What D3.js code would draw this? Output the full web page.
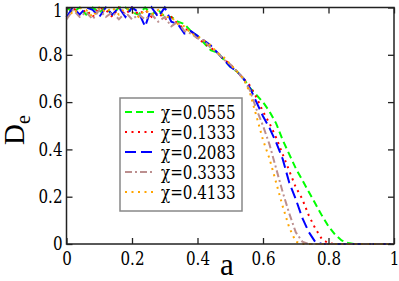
<!DOCTYPE html>
<html>
<head>
<meta charset="utf-8">
<script src="https://cdn.jsdelivr.net/npm/d3@7"></script>
<style>
  body { margin: 0; background: #fff; }
  svg text { font-family: "Liberation Serif", "Times New Roman", serif; }
  svg text.num { font-family: "DejaVu Serif", serif; }
</style>
</head>
<body>
<svg id="chart" width="399" height="281"></svg>
<script>
// a values, step 0.02 from 0 to 1
var aValues = d3.range(0, 51).map(function(i) { return +(i * 0.02).toFixed(2); });

var labels = ["χ=0.0555", "χ=0.1333", "χ=0.2083", "χ=0.3333", "χ=0.4133"];

var de_0555 = [1.0, 0.98, 1.0, 0.97, 1.0, 0.98, 1.0, 0.97, 1.0, 1.0,
  0.98, 0.97, 1.0, 0.97, 0.99, 0.96, 0.96, 0.94, 0.93, 0.90,
  0.88, 0.85, 0.82, 0.81, 0.78, 0.75, 0.73, 0.70,
  0.66, 0.63, 0.60, 0.56, 0.51, 0.44, 0.38, 0.32, 0.27, 0.22,
  0.17, 0.12, 0.075, 0.04, 0.015, 0.004, 0, 0, 0, 0, 0, 0, 0];
var de_1333 = [0.96, 1.0, 0.97, 0.99, 0.96, 1.0, 0.99, 0.96, 1.0, 0.97,
  1.0, 0.97, 0.99, 0.96, 0.98, 0.95, 0.96, 0.93, 0.91, 0.90,
  0.87, 0.85, 0.83, 0.81, 0.78, 0.76, 0.73, 0.70,
  0.67, 0.62, 0.56, 0.51, 0.45, 0.38, 0.31, 0.24, 0.19, 0.12,
  0.065, 0.02, 0.003, 0, 0, 0, 0, 0, 0, 0, 0, 0, 0];
var de_2083 = [0.96, 1.0, 0.97, 1.0, 0.99, 0.96, 1.0, 0.97, 1.0, 0.96,
  1.0, 0.98, 0.92, 1.0, 0.96, 1.0, 0.94, 0.93, 0.89, 0.90,
  0.88, 0.86, 0.84, 0.81, 0.78, 0.75, 0.73, 0.70,
  0.66, 0.60, 0.54, 0.49, 0.43, 0.36, 0.26, 0.19, 0.11, 0.05,
  0.008, 0, 0, 0, 0, 0, 0, 0, 0, 0, 0, 0, 0];
var de_3333 = [0.95, 0.99, 0.96, 0.98, 0.95, 0.99, 0.96, 0.98, 0.95, 0.98,
  0.95, 0.97, 0.95, 0.97, 0.94, 0.96, 0.92, 0.94, 0.90, 0.89,
  0.87, 0.86, 0.83, 0.81, 0.78, 0.76, 0.73, 0.70,
  0.65, 0.57, 0.50, 0.42, 0.32, 0.22, 0.13, 0.05, 0.01, 0,
  0, 0, 0, 0, 0, 0, 0, 0, 0, 0, 0, 0, 0];
var de_4133 = [1.0, 0.97, 1.0, 0.99, 0.96, 1.0, 0.98, 1.0, 0.97, 1.0,
  0.98, 0.96, 0.99, 0.97, 0.99, 0.96, 0.96, 0.93, 0.92, 0.89,
  0.88, 0.86, 0.84, 0.81, 0.79, 0.76, 0.73, 0.70,
  0.64, 0.54, 0.44, 0.36, 0.26, 0.16, 0.07, 0.01, 0, 0,
  0, 0, 0, 0, 0, 0, 0, 0, 0, 0, 0, 0, 0];

var xTicks = [0, 0.2, 0.4, 0.6, 0.8, 1];
var yTicks = [0, 0.2, 0.4, 0.6, 0.8, 1];

var series = [
  { name: labels[0], values: de_0555, color: "#00ff00", dash: "7,4" },
  { name: labels[1], values: de_1333, color: "#ff0000", dash: "2,4.5" },
  { name: labels[2], values: de_2083, color: "#0000ff", dash: "11,5" },
  { name: labels[3], values: de_3333, color: "#bc8f8f", dash: "7,3,2,3" },
  { name: labels[4], values: de_4133, color: "#ffa500", dash: "2,4.5" }
];

var squeeze = 0.84; // horizontal squeeze so DejaVu Serif digits get Times-like widths

const margin = {top: 7.5, right: 5, bottom: 37, left: 66.5},
  width = 399 - margin.left - margin.right,
  height = 281 - margin.top - margin.bottom;

const svg = d3.select("#chart");
const g = svg.append("g").attr("transform", `translate(${margin.left},${margin.top})`);

const x = d3.scaleLinear().domain([0, 1]).range([0, width]);
const y = d3.scaleLinear().domain([0, 1]).range([height, 0]);

g.append("clipPath").attr("id", "plotclip")
  .append("rect").attr("x", -2).attr("y", -2).attr("width", width + 4).attr("height", height + 4);

/** curves */
var line = d3.line()
  .x(function(d) { return x(d[0]); })
  .y(function(d) { return y(d[1]); });

g.append("g").attr("clip-path", "url(#plotclip)")
  .selectAll(".curve")
  .data(series)
  .join("path")
  .attr("class", "curve")
  .attr("fill", "none")
  .attr("stroke", function(d) { return d.color; })
  .attr("stroke-width", 2)
  .attr("stroke-dasharray", function(d) { return d.dash; })
  .attr("d", function(d) { return line(aValues.map(function(a, i) { return [a, d.values[i]]; })); });

/** frame + inward ticks */
var axisColor = "#222";
g.append("g").attr("transform", `translate(0,${height})`)
  .call(d3.axisBottom(x).tickValues(xTicks).tickSizeInner(-6).tickSizeOuter(0).tickPadding(8).tickFormat(d3.format("")))
  .call(function(s) { s.select(".domain").remove(); });
g.append("g")
  .call(d3.axisTop(x).tickValues(xTicks).tickSizeInner(-6).tickSizeOuter(0).tickFormat(""))
  .call(function(s) { s.select(".domain").remove(); });
g.append("g").attr("class", "yaxis")
  .call(d3.axisLeft(y).tickValues(yTicks).tickSizeInner(-6).tickSizeOuter(0).tickPadding(4).tickFormat(d3.format("")))
  .call(function(s) { s.select(".domain").remove(); });
g.append("g").attr("transform", `translate(${width},0)`)
  .call(d3.axisRight(y).tickValues(yTicks).tickSizeInner(-6).tickSizeOuter(0).tickFormat(""))
  .call(function(s) { s.select(".domain").remove(); });

g.selectAll(".tick line").attr("stroke", axisColor).attr("stroke-width", 1.3);
g.selectAll(".tick text")
  .attr("class", "num")
  .attr("font-size", 18)
  .attr("fill", "#000")
  .attr("x", function() { return +d3.select(this).attr("x") / squeeze; })
  .attr("transform", `scale(${squeeze},1)`);
// top label "1" sits a little lower than its tick
g.selectAll(".yaxis .tick text").filter(function(d) { return d === 1; }).attr("dy", "0.48em");

g.append("rect")
  .attr("width", width).attr("height", height)
  .attr("fill", "none").attr("stroke", axisColor).attr("stroke-width", 1.5);

/** axis titles */
svg.append("text")
  .attr("x", margin.left + x(0.49)).attr("y", 275)
  .attr("text-anchor", "middle")
  .attr("font-size", 31)
  .text("a");

var yl = svg.append("text")
  .attr("transform", "translate(24,130) rotate(-90)")
  .attr("text-anchor", "middle")
  .attr("font-size", 29);
yl.append("tspan").text("D");
yl.append("tspan").attr("dy", 6).attr("font-size", 20).text("e");

/** legend */
var legend = svg.append("g").attr("transform", "translate(120,98)");
legend.append("rect")
  .attr("width", 122).attr("height", 113)
  .attr("fill", "#fff").attr("stroke", "#888").attr("stroke-width", 1.5);
var items = legend.selectAll(".leg").data(series).join("g")
  .attr("class", "leg")
  .attr("transform", function(d, i) { return `translate(0,${14 + i * 20})`; });
items.append("line")
  .attr("x1", 5).attr("x2", 34)
  .attr("stroke", function(d) { return d.color; })
  .attr("stroke-width", 2)
  .attr("stroke-dasharray", function(d) { return d.dash; });
items.append("text")
  .attr("class", "num")
  .attr("transform", `translate(41,7) scale(${squeeze},1)`)
  .attr("font-size", 18)
  .text(function(d) { return d.name; });
</script>
</body>
</html>
